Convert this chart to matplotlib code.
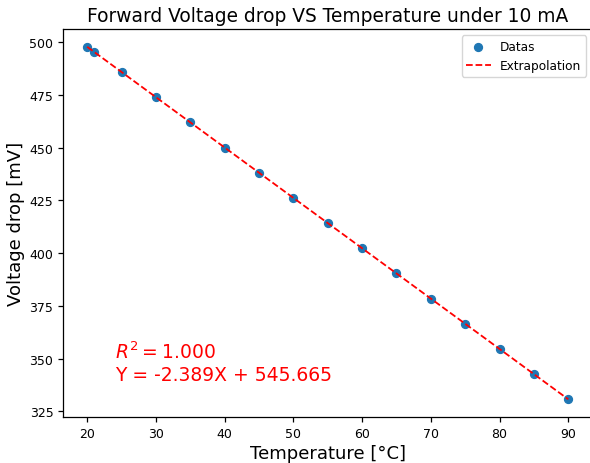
import matplotlib.pyplot as plt
import numpy as np

# measured data
temperature = [20, 21, 25, 30, 35, 40, 45, 50, 55, 60, 65, 70, 75, 80, 85, 90]
voltage = [497.9, 495.5, 485.9, 474.0, 462.1, 450.1, 438.2, 426.2,
           414.3, 402.3, 390.4, 378.4, 366.5, 354.5, 342.6, 330.6]

slope = -2.389
intercept = 545.665
r2 = 1.000

x_fit = np.array([temperature[0], temperature[-1]])
y_fit = slope * x_fit + intercept

fig, ax = plt.subplots(figsize=(5.9, 4.64), dpi=100)
fig.subplots_adjust(left=0.107, right=1.004, top=0.935, bottom=0.099)

ax.scatter(temperature, voltage, color='#1f77b4', s=32, label='Datas')
ax.plot(x_fit, y_fit, 'r--', linewidth=1.3, label='Extrapolation')

ax.set_title('Forward Voltage drop VS Temperature under 10 mA', fontsize=13.4)
ax.set_xlabel('Temperature [°C]', fontsize=13, labelpad=3)
ax.set_ylabel('Voltage drop [mV]', fontsize=13, labelpad=3)
ax.tick_params(labelsize=9, width=0.9)
for s in ax.spines.values():
    s.set_linewidth(0.9)

ax.text(24, 340, f'$R^2 = ${r2:.3f}\nY = {slope:.3f}X + {intercept:.3f}',
        color='red', fontsize=13.5)

ax.legend(loc='upper right', fontsize=8.7)

plt.savefig('out.png', dpi=100)
